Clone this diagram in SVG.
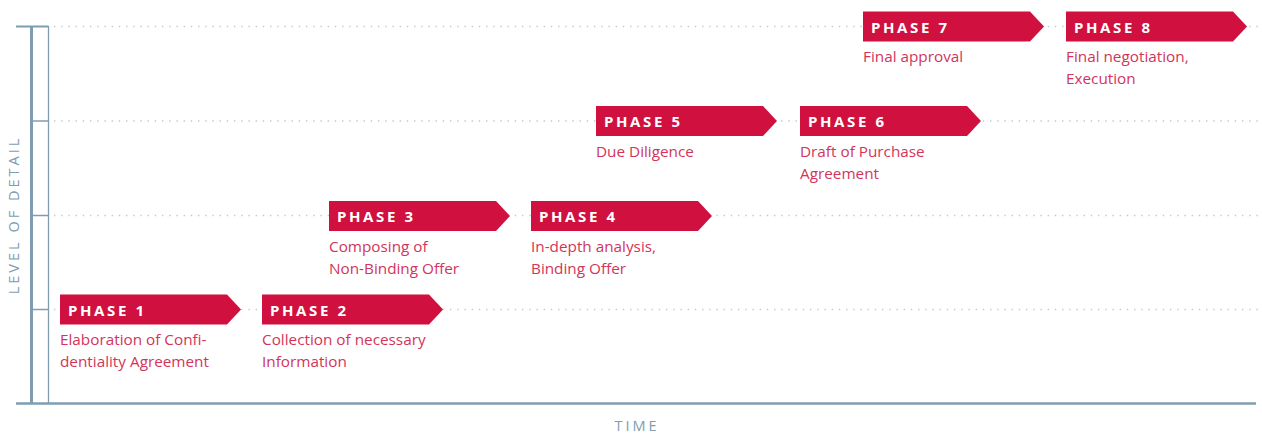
<svg xmlns="http://www.w3.org/2000/svg" width="1262" height="433" viewBox="0 0 1262 433">
  <style>
    .grid { stroke: #bccad2; stroke-width: 1.4; stroke-dasharray: 1.4 5.8; fill: none; }
    .axis { stroke: #7f9db0; fill: none; }
    .tag { fill: #d0103f; }
    .tag-label { font-family: "Open Sans", "Liberation Sans", sans-serif; font-weight: 700; font-size: 15px; letter-spacing: 2.6px; fill: #ffffff; }
    .caption { font-family: "Open Sans", "Liberation Sans", sans-serif; font-size: 15.3px; fill: #d3345a; }
    .axis-label { font-family: "Open Sans", "Liberation Sans", sans-serif; font-size: 14.5px; letter-spacing: 3px; fill: #7f9db0; }
  </style>
  <defs>
    <polygon id="arrow-tag" points="0,0 167,0 181,15 167,30 0,30"/>
  </defs>
  <rect width="1262" height="433" fill="#ffffff"/>

  <!-- dotted level guides -->
  <g id="guides">
    <line class="grid" x1="54" y1="26.5" x2="1262" y2="26.5"/>
    <line class="grid" x1="54" y1="121" x2="1262" y2="121"/>
    <line class="grid" x1="54" y1="215.5" x2="1262" y2="215.5"/>
    <line class="grid" x1="54" y1="309.5" x2="1262" y2="309.5"/>
  </g>

  <!-- axes -->
  <g id="axes">
    <line class="axis" x1="16" y1="26.5" x2="48.5" y2="26.5" stroke-width="2" stroke="#b7c8d2"/>
    <line class="axis" x1="31.5" y1="26" x2="31.5" y2="404" stroke-width="3"/>
    <line class="axis" x1="48.5" y1="26" x2="48.5" y2="404" stroke-width="1.3"/>
    <line class="axis" x1="32" y1="121" x2="48" y2="121" stroke-width="1.5" stroke="#a9bcc8"/>
    <line class="axis" x1="32" y1="215.5" x2="48" y2="215.5" stroke-width="1.5" stroke="#a9bcc8"/>
    <line class="axis" x1="32" y1="309.5" x2="48" y2="309.5" stroke-width="1.5" stroke="#a9bcc8"/>
    <line class="axis" x1="16" y1="403.5" x2="1256" y2="403.5" stroke-width="2.5"/>
    <text class="axis-label" x="0" y="0" text-anchor="middle" transform="translate(19 215) rotate(-90)">LEVEL OF DETAIL</text>
    <text class="axis-label" x="637" y="431" text-anchor="middle" letter-spacing="2.8">TIME</text>
  </g>

  <!-- phases -->
  <g id="phase-1" transform="translate(60 294.5)">
    <use href="#arrow-tag" class="tag"/>
    <text class="tag-label" x="8" y="21">PHASE 1</text>
    <text class="caption" x="0" y="50.5">Elaboration of Confi-</text>
    <text class="caption" x="0" y="72.5">dentiality Agreement</text>
  </g>
  <g id="phase-2" transform="translate(262 294.5)">
    <use href="#arrow-tag" class="tag"/>
    <text class="tag-label" x="8" y="21">PHASE 2</text>
    <text class="caption" x="0" y="50.5">Collection of necessary</text>
    <text class="caption" x="0" y="72.5">Information</text>
  </g>
  <g id="phase-3" transform="translate(329 201)">
    <use href="#arrow-tag" class="tag"/>
    <text class="tag-label" x="8" y="21">PHASE 3</text>
    <text class="caption" x="0" y="50.5">Composing of</text>
    <text class="caption" x="0" y="72.5">Non-Binding Offer</text>
  </g>
  <g id="phase-4" transform="translate(531 201)">
    <use href="#arrow-tag" class="tag"/>
    <text class="tag-label" x="8" y="21">PHASE 4</text>
    <text class="caption" x="0" y="50.5">In-depth analysis,</text>
    <text class="caption" x="0" y="72.5">Binding Offer</text>
  </g>
  <g id="phase-5" transform="translate(596 106)">
    <use href="#arrow-tag" class="tag"/>
    <text class="tag-label" x="8" y="21">PHASE 5</text>
    <text class="caption" x="0" y="50.5">Due Diligence</text>
  </g>
  <g id="phase-6" transform="translate(800 106)">
    <use href="#arrow-tag" class="tag"/>
    <text class="tag-label" x="8" y="21">PHASE 6</text>
    <text class="caption" x="0" y="50.5">Draft of Purchase</text>
    <text class="caption" x="0" y="72.5">Agreement</text>
  </g>
  <g id="phase-7" transform="translate(863 11.5)">
    <use href="#arrow-tag" class="tag"/>
    <text class="tag-label" x="8" y="21">PHASE 7</text>
    <text class="caption" x="0" y="50.5">Final approval</text>
  </g>
  <g id="phase-8" transform="translate(1066 11.5)">
    <use href="#arrow-tag" class="tag"/>
    <text class="tag-label" x="8" y="21">PHASE 8</text>
    <text class="caption" x="0" y="50.5">Final negotiation,</text>
    <text class="caption" x="0" y="72.5">Execution</text>
  </g>
</svg>
